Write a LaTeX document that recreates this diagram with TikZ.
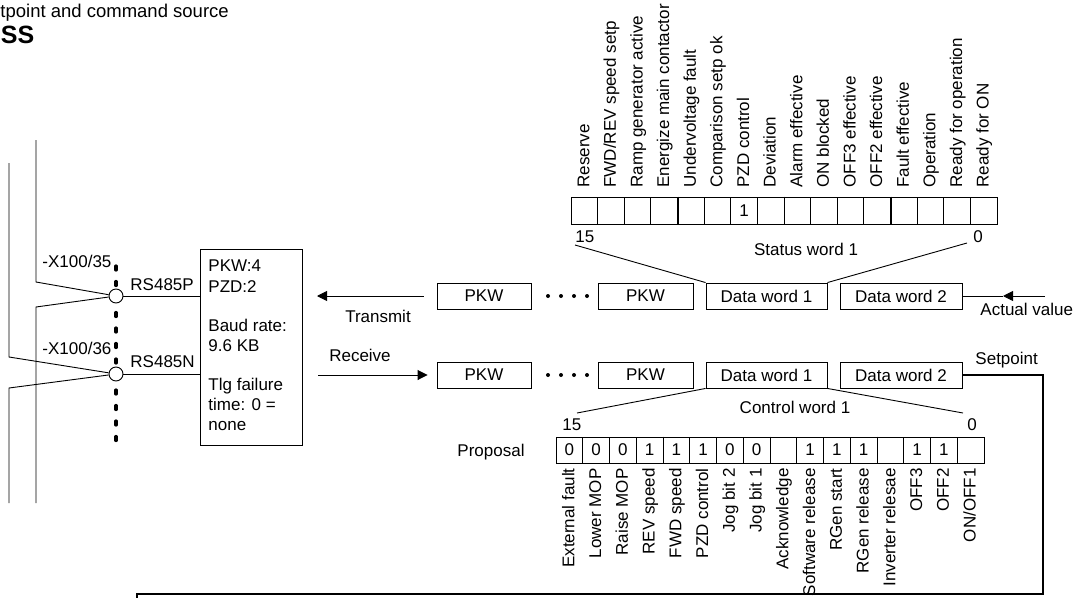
\documentclass[tikz,border=0pt]{standalone}
\usepackage{fontspec}
\setmainfont{Liberation Sans}
\usetikzlibrary{arrows.meta}
\begin{document}
\begin{tikzpicture}[x=1pt,y=-1pt,line width=0.9pt,
  font=\fontsize{17}{20}\selectfont,
  txt/.style={inner sep=0pt},
  wbox/.style={draw,minimum height=26pt,inner sep=0pt},
  scell/.style={draw,minimum width=26.625pt,minimum height=27pt,inner sep=0pt},
  ccell/.style={draw,minimum width=26.75pt,minimum height=26pt,inner sep=0pt},
  vlab/.style={rotate=90,inner sep=0pt},
  tip/.style={-{Triangle[length=10pt,width=10pt]}},
  port/.style={circle,draw,fill=white,minimum size=14pt,inner sep=0pt}]
\useasboundingbox (0,0) rectangle (1075,597);

% title
\node[txt,anchor=base west,font=\fontsize{18.5}{20}\selectfont] (title) at (0,17) {tpoint and command source};
\node[txt,anchor=base west,font=\fontsize{25}{28}\selectfont\bfseries] (ss) at (0.5,43) {SS};

% status word header labels
\foreach \t [count=\i from 0] in {Reserve,FWD/REV speed setp,Ramp generator active,Energize main contactor,Undervoltage fault,Comparison setp ok,PZD control,Deviation,Alarm effective,ON blocked,OFF3 effective,OFF2 effective,Fault effective,Operation,Ready for operation,Ready for ON}
  \node[vlab,anchor=base west] (sl\i) at ({571+26.625*(\i+0.5)+5},188) {\t};

% status word cells
\foreach \v [count=\i from 0] in {,,,,,,1,,,,,,,,,}
  \node[scell] (s\i) at ({571+26.625*(\i+0.5)},210.5) {\v};
\foreach \i in {3,7,11}
  \draw[line width=1.7pt] (s\i.north east) -- (s\i.south east);
\node[txt,anchor=base west] (s15) at (575,242) {15};
\node[txt,anchor=base west] (s0) at (973,242) {0};
\node[txt,anchor=base] (sw) at (806,255) {Status word 1};

% telegram rows
\node[wbox,minimum width=94pt] (pt1) at (484,296) {PKW};
\node[wbox,minimum width=95pt] (pt2) at (645.5,296) {PKW};
\node[wbox,minimum width=121pt] (dt1) at (766.5,296) {Data word 1};
\node[wbox,minimum width=122pt] (dt2) at (901,296) {Data word 2};
\node[wbox,minimum width=94pt] (pb1) at (484,375) {PKW};
\node[wbox,minimum width=95pt] (pb2) at (645.5,375) {PKW};
\node[wbox,minimum width=121pt] (db1) at (766.5,375) {Data word 1};
\node[wbox,minimum width=122pt] (db2) at (901,375) {Data word 2};
\foreach \x in {548,561,574,587} {
  \fill (\x,296) circle (2pt);
  \fill (\x,375) circle (2pt);
}

% fan lines
\coordinate (sfl) at (575,245);
\coordinate (sfr) at (967,243);
\coordinate (cfl) at (577,413);
\coordinate (cfr) at (963,413);
\draw (sfl) -- (dt1.north west);
\draw (sfr) -- (dt1.north east);
\draw (db1.south west) -- (cfl);
\draw (db1.south east) -- (cfr);

% actual value / setpoint
\coordinate (av) at (1045,296);
\coordinate (avm) at (1003,296);
\draw[tip] (av) -- (avm);
\draw (avm) -- (dt2.east);
\node[txt,anchor=base west] (avl) at (980,315) {Actual value};
\node[txt,anchor=base west] (spl) at (975,364) {Setpoint};
\coordinate (f1) at (1043,375);
\coordinate (f2) at (1043,594);
\coordinate (f3) at (137,594);
\coordinate (f4) at (137,602);
\draw[line width=1.2pt] (db2.east) -- (f1) -- (f2) -- (f3) -- (f4);

% control word
\node[txt,anchor=base] (cw) at (795,413) {Control word 1};
\node[txt,anchor=base west] (c15) at (562,430) {15};
\node[txt,anchor=base west] (c0) at (967,430) {0};
\node[txt,anchor=base west] (prop) at (457,456) {Proposal};
\foreach \v [count=\i from 0] in {0,0,0,1,1,1,0,0,,1,1,1,,1,1,}
  \node[ccell] (c\i) at ({556+26.75*(\i+0.5)},450) {\v};
\foreach \i in {3,7,11}
  \draw[line width=1.7pt] (c\i.north east) -- (c\i.south east);
\foreach \t [count=\i from 0] in {External fault,Lower MOP,Raise MOP,REV speed,FWD speed,PZD control,Jog bit 2,Jog bit 1,Acknowledge,Software release,RGen start,RGen release,Inverter relesae,OFF3,OFF2,ON/OFF1}
  \node[vlab,anchor=base east] (cl\i) at ({556+26.75*(\i+0.5)+5},468) {\t};

% transmit / receive
\coordinate (tx) at (317,296);
\coordinate (rx) at (318,375);
\draw[tip] ([xshift=-13pt]pt1.west) -- (tx);
\draw[tip] (rx) -- ([xshift=-9pt]pb1.west);
\node[txt,anchor=base] (txl) at (378,322) {Transmit};
\node[txt,anchor=base] (rxl) at (360,361) {Receive};

% interface box
\node[draw,minimum width=102pt,minimum height=196pt,inner sep=0pt] (ib) at (251,347) {};
\node[txt,anchor=base west] at (208,271) {PKW:4};
\node[txt,anchor=base west] at (208,292) {PZD:2};
\node[txt,anchor=base west] at (208,331) {Baud rate:};
\node[txt,anchor=base west] at (208,351) {9.6 KB};
\node[txt,anchor=base west] at (208,390) {Tlg failure};
\node[txt,anchor=base west] at (208,410) {time: 0 =};
\node[txt,anchor=base west] at (208,430) {none};

% bus
\coordinate (d1) at (116,266.25);
\coordinate (d2) at (116,447);
\draw[line width=3.8pt,line cap=round,dash pattern=on 3.5pt off 12pt] (d1) -- (d2);
\node[port] (p1) at (116,296) {};
\node[port] (p2) at (116,374) {};
\draw (p1) -- (p1 -| ib.west);
\draw (p2) -- (p2 -| ib.west);
\node[txt,anchor=base west] (rsp) at (130,290) {RS485P};
\node[txt,anchor=base west] (rsn) at (130,367) {RS485N};
\node[txt,anchor=base west] (x35) at (42,267) {-X100/35};
\node[txt,anchor=base west] (x36) at (42,354) {-X100/36};

% wires
\coordinate (a1) at (36,140);  \coordinate (a2) at (36,282);
\coordinate (b1) at (36,307);  \coordinate (b2) at (36,503);
\coordinate (e1) at (9,163);   \coordinate (e2) at (9,357);
\coordinate (g1) at (9,388);   \coordinate (g2) at (9,503);
\draw (a1) -- (a2) -- (p1);
\draw (p1) -- (b1) -- (b2);
\draw (e1) -- (e2) -- (p2);
\draw (p2) -- (g1) -- (g2);
\end{tikzpicture}
\end{document}
